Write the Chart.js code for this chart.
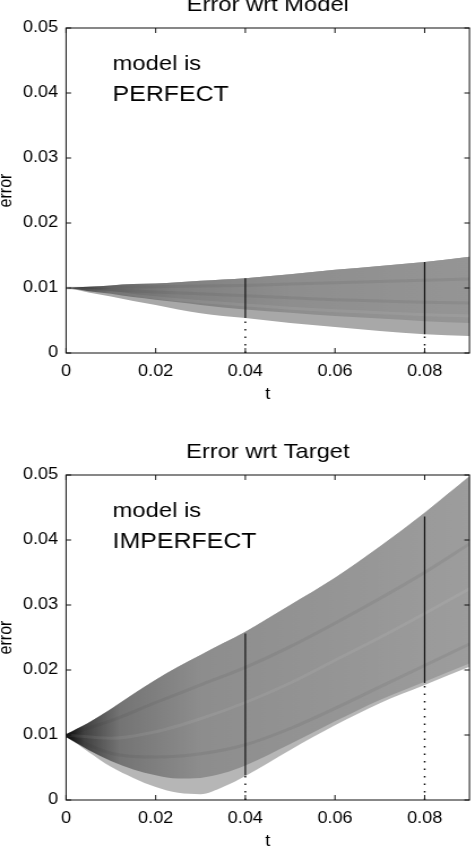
<!DOCTYPE html>
<html>
<head>
<meta charset="utf-8">
<script src="https://cdn.jsdelivr.net/npm/chart.js@4.4.0/dist/chart.umd.min.js"></script>
<style>
  html, body { margin: 0; padding: 0; background: #fff; overflow: hidden; }
  #wrap { position: relative; width: 475px; height: 853px; overflow: hidden; }
  canvas { position: absolute; left: 0; }
  #modelChart { top: -21px; }
  #targetChart { top: 426px; }
</style>
</head>
<body>
<div id="wrap">
  <!-- canvases are drawn 420 wide and stretched to 475, like the wide text of the original figure -->
  <canvas id="modelChart" width="420" height="427" style="width:475px;height:427px"></canvas>
  <canvas id="targetChart" width="420" height="427" style="width:475px;height:427px"></canvas>
</div>
<script>
// Time grid shared by the envelopes
const tGrid = [0, 0.0025, 0.005, 0.01, 0.015, 0.02, 0.025, 0.03, 0.035, 0.04, 0.05, 0.06, 0.07, 0.08, 0.09];

// Top panel: error wrt model (edges of the bundle of runs)
const modelUpper = [0.0100, 0.0101, 0.0102, 0.0104, 0.0106, 0.0107, 0.0109, 0.0111, 0.0113, 0.0115, 0.0121, 0.0128, 0.0134, 0.0140, 0.0148];
const modelInner = [0.0100, 0.0098, 0.0095, 0.0091, 0.0086, 0.0082, 0.0078, 0.0074, 0.0070, 0.0067, 0.0062, 0.0057, 0.0053, 0.0049, 0.0046];
const modelLower = [0.0100, 0.0097, 0.0093, 0.0087, 0.0080, 0.0074, 0.0067, 0.0061, 0.0057, 0.0054, 0.0046, 0.0040, 0.0034, 0.0029, 0.0026];

// Bottom panel: error wrt target
const targetUpper = [0.0101, 0.0110, 0.0119, 0.0140, 0.0163, 0.0185, 0.0205, 0.0223, 0.0241, 0.0259, 0.0300, 0.0342, 0.0390, 0.0442, 0.0498];
const targetInner = [0.0097, 0.0087, 0.0077, 0.0060, 0.0047, 0.0038, 0.0033, 0.0034, 0.0041, 0.0053, 0.0086, 0.0121, 0.0154, 0.0182, 0.0210];
const targetLower = [0.0097, 0.0086, 0.0074, 0.0051, 0.0034, 0.0020, 0.0011, 0.0009, 0.0020, 0.0037, 0.0077, 0.0115, 0.0149, 0.0177, 0.0205];

// A few faint streaks inside each bundle
const tStreak = [0, 0.01, 0.02, 0.03, 0.04, 0.05, 0.06, 0.07, 0.08, 0.09];
const modelDarkA = [0.0100, 0.0101, 0.0102, 0.0103, 0.0104, 0.0106, 0.0108, 0.0110, 0.0112, 0.0114];
const modelDarkB = [0.0100, 0.0097, 0.0094, 0.0091, 0.0088, 0.0085, 0.0082, 0.0080, 0.0078, 0.0077];
const modelLight = [0.0100, 0.0093, 0.0085, 0.0079, 0.0074, 0.0069, 0.0065, 0.0062, 0.0059, 0.0057];
const targetDarkA = [0.0100, 0.0072, 0.0066, 0.0071, 0.0085, 0.0110, 0.0141, 0.0174, 0.0207, 0.0240];
const targetDarkB = [0.0100, 0.0122, 0.0150, 0.0177, 0.0204, 0.0236, 0.0272, 0.0310, 0.0350, 0.0394];
const targetLight = [0.0100, 0.0095, 0.0105, 0.0125, 0.0150, 0.0180, 0.0215, 0.0250, 0.0287, 0.0325];

// Range markers at the two check times
const markT = [0.04, 0.08];
const modelMarkLow = [0.0054, 0.0029];
const modelMarkHigh = [0.0115, 0.0140];
const targetMarkLow = [0.0038, 0.0180];
const targetMarkHigh = [0.0256, 0.0436];

// Axis ticks
const xTicks = [0, 0.02, 0.04, 0.06, 0.08];
const xTickLabels = ['0', '0.02', '0.04', '0.06', '0.08'];
const yTicks = [0, 0.01, 0.02, 0.03, 0.04, 0.05];
const yTickLabels = ['0', '0.01', '0.02', '0.03', '0.04', '0.05'];

// Text note position (data units)
const noteT = 0.0104;
const noteY = [0.0435, 0.0387];

const family = '"Liberation Sans", Arial, Helvetica, sans-serif';
Chart.defaults.font.family = family;
Chart.defaults.color = '#000';

// shading of the bundle: darker where all runs start together
const modelShade = [[0, '#333333'], [0.01, '#686868'], [0.025, '#808080'], [0.05, '#8e8e8e'], [0.09, '#959595']];
const targetShade = [[0, '#080808'], [0.004, '#404040'], [0.012, '#747474'], [0.03, '#8d8d8d'], [0.09, '#9d9d9d']];

function pts(xs, ys) {
    return xs.map((x, i) => ({ x: x, y: ys[i] }));
}

function shadeFill(stops, fallback) {
    return function (ctx) {
        const chart = ctx.chart;
        const xs = chart.scales.x;
        if (!chart.chartArea || !xs) return fallback;
        const x0 = xs.getPixelForValue(0);
        const x1 = xs.getPixelForValue(0.09);
        const g = chart.ctx.createLinearGradient(x0, 0, x1, 0);
        stops.forEach(s => g.addColorStop(Math.min(1, s[0] / 0.09), s[1]));
        return g;
    };
}

// Box, inward ticks, title and note
const frame = {
    id: 'frame',
    afterDatasetsDraw(chart, args, opts) {
        const { ctx, chartArea: a, scales: { x, y } } = chart;
        ctx.save();
        ctx.strokeStyle = '#111';
        ctx.lineWidth = 1;
        ctx.strokeRect(a.left, a.top, a.width, a.height);
        ctx.beginPath();
        x.ticks.forEach(t => {
            const p = x.getPixelForValue(t.value);
            ctx.moveTo(p, a.bottom); ctx.lineTo(p, a.bottom - 5);
            ctx.moveTo(p, a.top); ctx.lineTo(p, a.top + 5);
        });
        y.ticks.forEach(t => {
            const p = y.getPixelForValue(t.value);
            ctx.moveTo(a.left, p); ctx.lineTo(a.left + 4.5, p);
            ctx.moveTo(a.right, p); ctx.lineTo(a.right - 4.5, p);
        });
        ctx.stroke();

        ctx.fillStyle = '#000';
        ctx.textBaseline = 'alphabetic';
        ctx.textAlign = 'center';
        ctx.font = '21px ' + family;
        ctx.fillText(opts.title, (a.left + a.right) / 2, a.top - 17);
        ctx.textAlign = 'left';
        ctx.fillText('model is', x.getPixelForValue(noteT), y.getPixelForValue(noteY[0]));
        ctx.font = '22px ' + family;
        ctx.fillText(opts.note, x.getPixelForValue(noteT), y.getPixelForValue(noteY[1]));
        ctx.restore();
    }
};

function band(data, order, fill, color) {
    return {
        data: data,
        order: order,
        fill: fill,
        backgroundColor: color,
        borderColor: 'rgba(0,0,0,0)',
        borderWidth: 0,
        pointRadius: 0,
        cubicInterpolationMode: 'monotone'
    };
}

function streak(ys, color, width) {
    return {
        data: pts(tStreak, ys),
        order: 1.5,
        fill: false,
        borderColor: color,
        borderWidth: width,
        pointRadius: 0,
        cubicInterpolationMode: 'monotone'
    };
}

function makeChart(id, p) {
    const datasets = [
        band(pts(tGrid, p.upper), 3, false, 'rgba(0,0,0,0)'),
        band(pts(tGrid, p.lower), 3, '-1', p.strip),
        band(pts(tGrid, p.upper), 2, false, 'rgba(0,0,0,0)'),
        band(pts(tGrid, p.inner), 2, '-1', shadeFill(p.shade, '#8a8a8a')),
        streak(p.darkA, 'rgba(40,40,40,0.08)', 3),
        streak(p.darkB, 'rgba(40,40,40,0.08)', 3),
        streak(p.light, 'rgba(255,255,255,0.07)', 3)
    ];
    markT.forEach((t, i) => {
        // solid line over the spread
        datasets.push({
            data: [{ x: t, y: p.markLow[i] }, { x: t, y: p.markHigh[i] }],
            order: 1, borderColor: '#111', borderWidth: 1.2, pointRadius: 0, fill: false
        });
        // dotted drop to the axis
        datasets.push({
            data: [{ x: t, y: 0 }, { x: t, y: p.markLow[i] }],
            order: 1, borderColor: '#000', borderWidth: 1.4, borderDash: [1.5, 6], pointRadius: 0, fill: false
        });
    });

    return new Chart(document.getElementById(id), {
        type: 'line',
        data: { datasets: datasets },
        options: {
            responsive: false,
            animation: false,
            devicePixelRatio: 1,
            layout: { padding: { top: 49, right: 4.9, left: 0, bottom: 0 } },
            plugins: {
                legend: { display: false },
                tooltip: { enabled: false },
                frame: { title: p.title, note: p.note }
            },
            scales: {
                x: {
                    type: 'linear',
                    min: 0,
                    max: 0.09,
                    afterBuildTicks: s => { s.ticks = xTicks.map(v => ({ value: v })); },
                    afterFit: s => { s.height = 53; },
                    grid: { display: false, drawTicks: false },
                    border: { display: false },
                    ticks: {
                        padding: 9, autoSkip: false, maxRotation: 0,
                        font: { size: 16 }, color: '#000',
                        callback: (v, i) => xTickLabels[i]
                    },
                    title: { display: true, text: 't', color: '#000', font: { size: 16 }, padding: { top: 0, bottom: 2 } }
                },
                y: {
                    type: 'linear',
                    min: 0,
                    max: 0.05,
                    afterBuildTicks: s => { s.ticks = yTicks.map(v => ({ value: v })); },
                    afterFit: s => { s.width = 58.4; },
                    grid: { display: false, drawTicks: false },
                    border: { display: false },
                    ticks: {
                        padding: 7, autoSkip: false,
                        font: { size: 16 }, color: '#000',
                        callback: (v, i) => yTickLabels[i]
                    },
                    title: { display: true, text: 'error', color: '#000', font: { size: 16, lineHeight: 0.6 }, padding: { top: 0.5, bottom: 0 } }
                }
            }
        },
        plugins: [frame]
    });
}

makeChart('modelChart', {
    upper: modelUpper, inner: modelInner, lower: modelLower,
    darkA: modelDarkA, darkB: modelDarkB, light: modelLight,
    markLow: modelMarkLow, markHigh: modelMarkHigh,
    shade: modelShade, strip: '#a8a8a8',
    title: 'Error wrt Model', note: 'PERFECT'
});
makeChart('targetChart', {
    upper: targetUpper, inner: targetInner, lower: targetLower,
    darkA: targetDarkA, darkB: targetDarkB, light: targetLight,
    markLow: targetMarkLow, markHigh: targetMarkHigh,
    shade: targetShade, strip: '#b6b6b6',
    title: 'Error wrt Target', note: 'IMPERFECT'
});
</script>
</body>
</html>
